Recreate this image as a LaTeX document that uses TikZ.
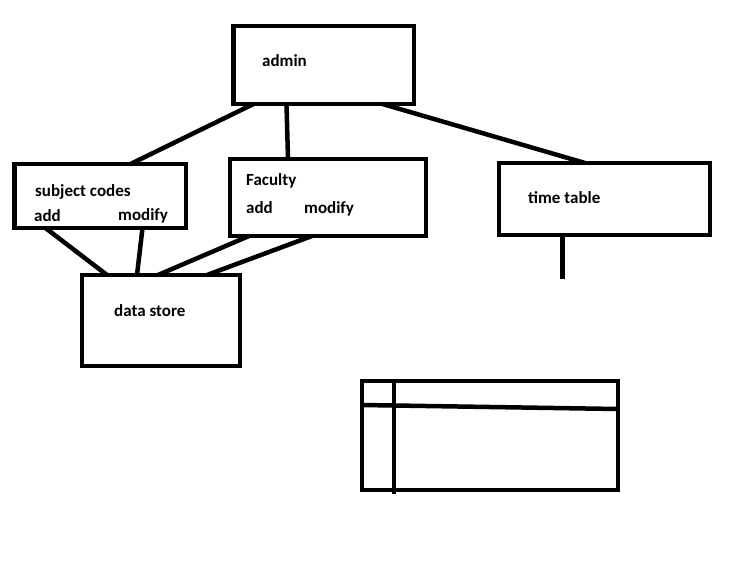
\documentclass[tikz,border=0pt]{standalone}
\usepackage{fontspec}
\setmainfont{Carlito}
\begin{document}
\begin{tikzpicture}
    [
    x=1pt, y=-1pt,
    box/.style={draw,rectangle,line width=4.5pt,inner sep=0pt,outer sep=0pt},
    txt/.style={anchor=base west,inner sep=0pt,font=\fontsize{17}{20}\selectfont\bfseries},
    link/.style={line width=4.5pt}
    ]
    \useasboundingbox (0,0) rectangle (743,572);
    % boxes
    \node (admin) at (323.75,65) [box,minimum width=180.5,minimum height=78] {};
    \node (subj) at (100.25,196) [box,minimum width=171.5,minimum height=64] {};
    \node (fac) at (328,197.5) [box,minimum width=196,minimum height=77] {};
    \node (store) at (161,320.5) [box,minimum width=158,minimum height=91] {};
    \node (tt) at (604.5,199) [box,minimum width=211,minimum height=72] {};
    \node (grid) at (490,435.5) [box,minimum width=256,minimum height=109] {};
    % texts
    \node (admintxt) at (262,67) [txt] {admin};
    \node (subjtxt) at (35,196) [txt] {subject codes};
    \node (subjadd) at (34,221) [txt] {add};
    \node (subjmod) at (118,220) [txt] {modify};
    \node (factxt) at (246,185) [txt] {Faculty};
    \node (facadd) at (246,213) [txt] {add};
    \node (facmod) at (304,213) [txt] {modify};
    \node (storetxt) at (114,316) [txt] {data store};
    \node (tttxt) at (528,203) [txt] {time table};
    \coordinate (ttend) at (562.5,279);
    % links
    \draw [link] ([xshift=20]admin.south west) to ([xshift=116]subj.north west);
    \draw [link] ([xshift=53]admin.south west) to ([xshift=58]fac.north west);
    \draw [link] ([xshift=149]admin.south west) to ([xshift=86]tt.north west);
    \draw [link] ([xshift=31]subj.south west) to ([xshift=25]store.north west);
    \draw [link] ([xshift=128]subj.south west) to ([xshift=55]store.north west);
    \draw [link] ([xshift=19]fac.south west) to ([xshift=76]store.north west);
    \draw [link] ([xshift=82]fac.south west) to ([xshift=125]store.north west);
    \draw [link] ([xshift=63.5]tt.south west) to (ttend);
    % table lines
    \draw [link] ([xshift=32]grid.north west) to ([xshift=32,yshift=-4]grid.south west);
    \draw [link] ([yshift=-24]grid.north west) to ([yshift=-28]grid.north east);
\end{tikzpicture}
\end{document}
